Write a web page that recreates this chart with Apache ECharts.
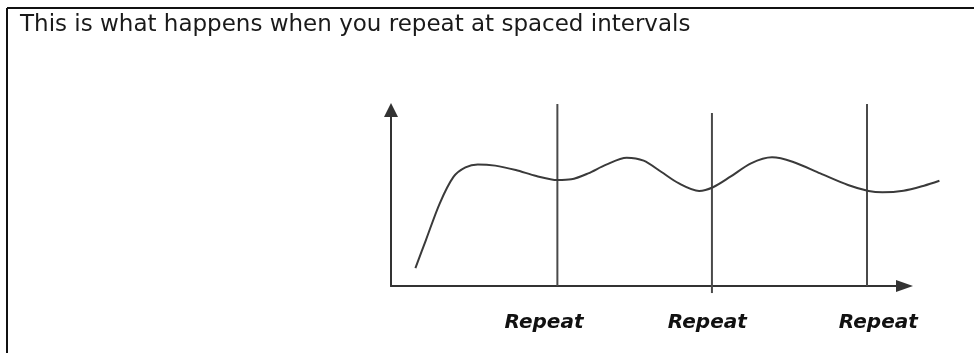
<!DOCTYPE html>
<html>
<head>
<meta charset="utf-8">
<script src="https://cdn.jsdelivr.net/npm/echarts@6/dist/echarts.min.js"></script>
<style>
  html, body { margin: 0; padding: 0; background: #fff; }
  #chart { width: 974px; height: 353px; }
</style>
</head>
<body>
<div id="chart"></div>
<script>
// ---- data (abstract units: x = time, y = retention 0..100) ----
const titleText = 'This is what happens when you repeat at spaced intervals';
const curveX = [4.75, 6.8, 9.5, 12.2, 14.5, 16.9, 20.3, 24.3, 28.3, 32.4, 35.1, 38.4, 41.8, 45.9, 49.2, 52.6, 56.0, 60.0, 62.7, 66.1, 70.1, 74.2, 78.2, 83.6, 89.0, 93.0, 95.7, 99.8, 103.8, 106.8];
const curveY = [10.2, 26.1, 47.0, 62.1, 67.4, 69.1, 68.4, 65.9, 62.5, 60.2, 60.6, 64.0, 68.8, 72.9, 71.2, 64.9, 58.4, 54.0, 56.1, 62.1, 69.7, 73.1, 70.6, 64.0, 57.4, 54.0, 53.2, 54.1, 57.0, 59.8];
const repeatX = [32.4, 62.5, 92.7];
const repeatTop = [103.4, 98.3, 103.4];
const repeatBottom = [0, -4, 0];
const repeatLabelX = [29.8, 61.6, 94.9];
const repeatLabels = ['Repeat', 'Repeat', 'Repeat'];
const axisXMax = 100;   // where the drawn time axis (arrow) ends
const dataXMax = 108;   // the curve runs on past the arrow

const chart = echarts.init(document.getElementById('chart'), null, { renderer: 'canvas' });

const W = 974, H = 353;
const plotLeft = 391, axisRightPx = 904.5, plotTop = 110, plotBottomPx = 286;
const pxPerUnit = (axisRightPx - plotLeft) / axisXMax;

const curveData = curveX.map((x, i) => [x, curveY[i]]);
const repeatSeries = repeatX.map((x, i) => ({
  type: 'line',
  name: 'repeat' + (i + 1),
  xAxisIndex: 1,
  yAxisIndex: 1,
  data: [[x, repeatBottom[i]], [x, repeatTop[i]]],
  showSymbol: false,
  symbol: 'none',
  clip: false,
  silent: true,
  z: 1,
  lineStyle: { color: '#4a4a4a', width: 2 }
}));

const option = {
  animation: false,
  backgroundColor: '#ffffff',
  title: {
    text: titleText,
    left: 20,
    top: 14,
    padding: 0,
    textStyle: {
      fontFamily: 'DejaVu Sans',
      fontSize: 23,
      fontWeight: 'normal',
      color: '#1a1a1a'
    }
  },
  graphic: [
    { type: 'line', shape: { x1: 7, y1: 8, x2: 974, y2: 8 }, style: { stroke: '#111', lineWidth: 2 }, silent: true },
    { type: 'line', shape: { x1: 7, y1: 8, x2: 7, y2: 353 }, style: { stroke: '#111', lineWidth: 2 }, silent: true }
  ],
  grid: [
    // grid 0: the drawn axes with arrows
    { left: plotLeft, right: W - axisRightPx, top: plotTop, bottom: H - plotBottomPx, containLabel: false },
    // grid 1: same scale, wider so the curve can run past the arrow
    { left: plotLeft, right: W - (plotLeft + dataXMax * pxPerUnit), top: plotTop, bottom: H - plotBottomPx, containLabel: false }
  ],
  xAxis: [{
    type: 'value',
    gridIndex: 0,
    min: 0,
    max: axisXMax,
    axisLine: {
      show: true,
      onZero: false,
      symbol: ['none', 'triangle'],
      symbolSize: [12, 17],
      lineStyle: { color: '#333', width: 2 }
    },
    axisTick: { show: false },
    splitLine: { show: false },
    axisLabel: {
      show: true,
      customValues: repeatLabelX,
      formatter: function (v) {
        const i = repeatLabelX.indexOf(v);
        return i >= 0 ? repeatLabels[i] : '';
      },
      margin: 27,
      fontFamily: 'DejaVu Sans',
      fontSize: 20,
      fontWeight: 'bold',
      fontStyle: 'italic',
      color: '#111'
    }
  }, {
    type: 'value',
    gridIndex: 1,
    min: 0,
    max: dataXMax,
    show: false
  }],
  yAxis: [{
    type: 'value',
    gridIndex: 0,
    min: 0,
    max: 100,
    axisLine: {
      show: true,
      onZero: false,
      symbol: ['none', 'triangle'],
      symbolSize: [14, 14],
      lineStyle: { color: '#333', width: 2 }
    },
    axisTick: { show: false },
    axisLabel: { show: false },
    splitLine: { show: false }
  }, {
    type: 'value',
    gridIndex: 1,
    min: 0,
    max: 100,
    show: false
  }],
  series: [{
    type: 'line',
    name: 'retention',
    xAxisIndex: 1,
    yAxisIndex: 1,
    data: curveData,
    smooth: 0.3,
    showSymbol: false,
    symbol: 'none',
    clip: false,
    silent: true,
    z: 2,
    lineStyle: { color: '#3a3a3a', width: 2 }
  }].concat(repeatSeries)
};

chart.setOption(option);
</script>
</body>
</html>
